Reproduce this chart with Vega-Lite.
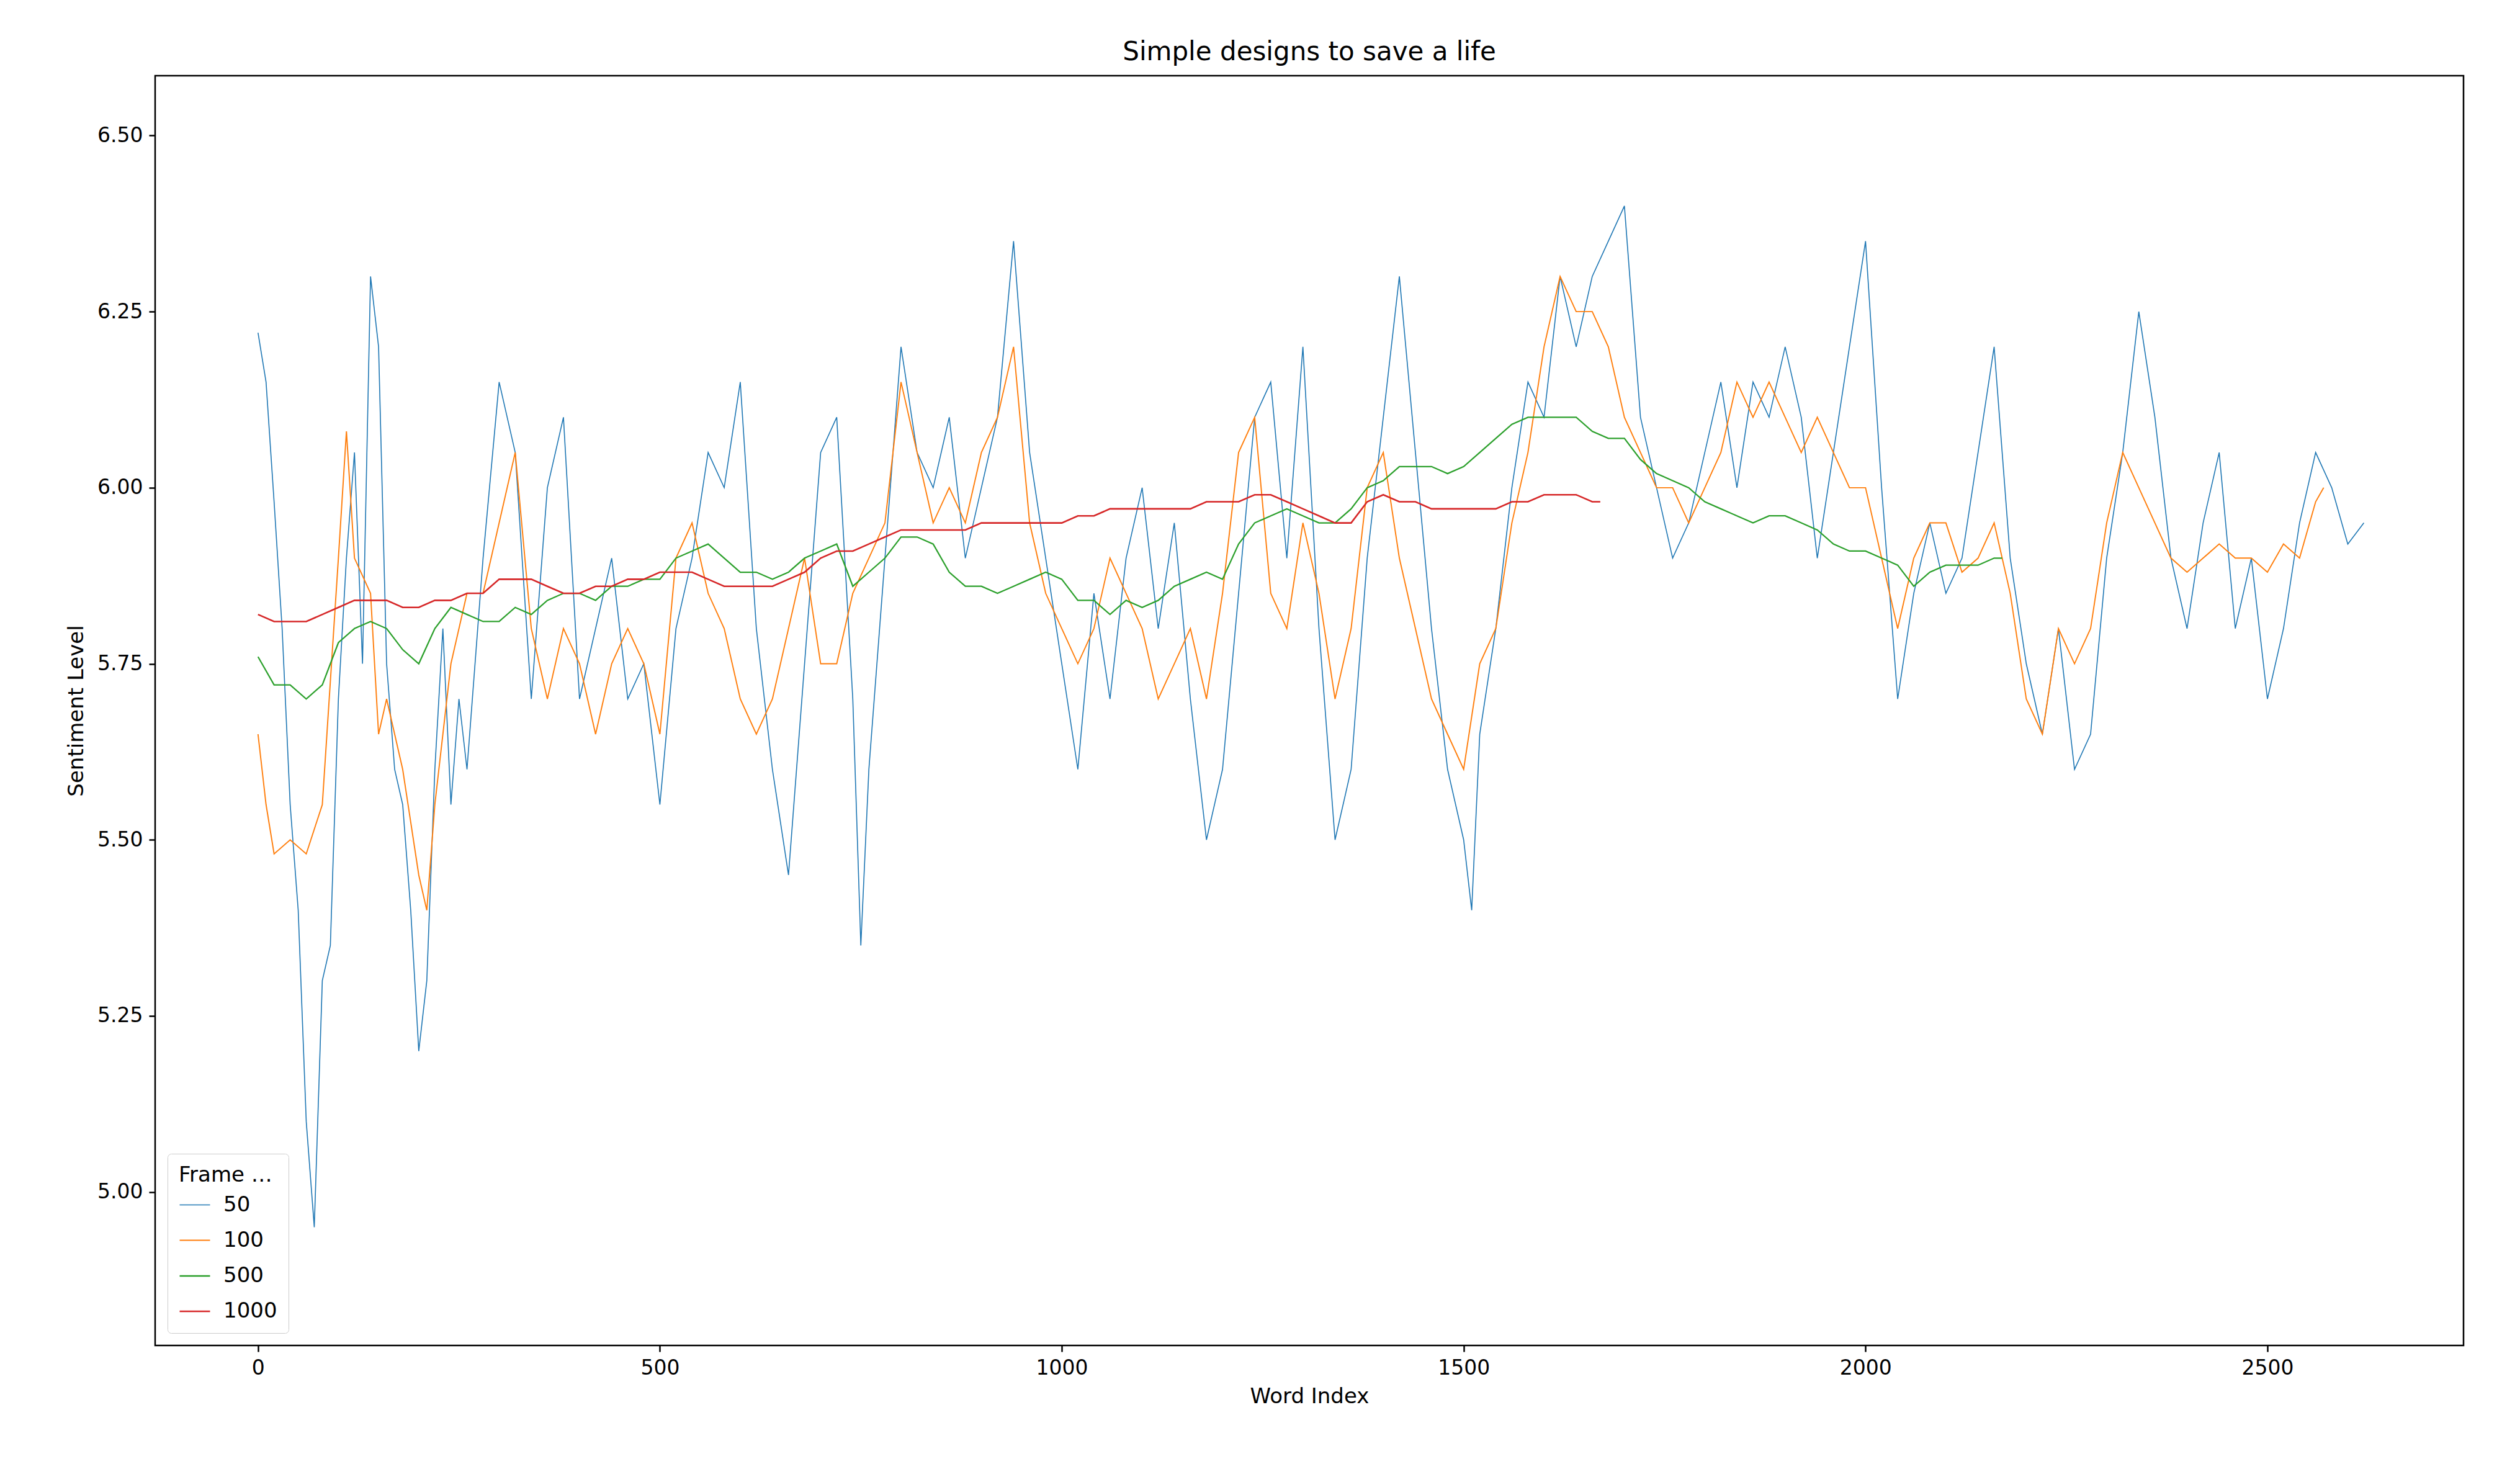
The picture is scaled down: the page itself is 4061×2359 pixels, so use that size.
{
  "$schema": "https://vega.github.io/schema/vega-lite/v6.json",
  "width": 3720,
  "height": 2046,
  "autosize": {"type": "none"},
  "padding": {"left": 250, "top": 122, "right": 91, "bottom": 191},
  "background": "white",
  "config": {
    "font": "DejaVu Sans",
    "view": {"stroke": "black", "strokeWidth": 2.5},
    "axis": {"grid": false, "domain": false, "tickColor": "black", "tickWidth": 2.5, "tickSize": 10, "labelFontSize": 33, "titleFontSize": 34, "labelColor": "black", "titleColor": "black", "titleFontWeight": "normal", "labelPadding": 10}
  },
  "title": {"text": "Simple designs to save a life", "fontSize": 42, "fontWeight": "normal", "offset": 16},
  "data": {"values": [
    {"w":0,"s":6.22,"f":"50"},{"w":10,"s":6.15,"f":"50"},{"w":20,"s":5.98,"f":"50"},{"w":30,"s":5.80,"f":"50"},{"w":40,"s":5.55,"f":"50"},{"w":50,"s":5.40,"f":"50"},{"w":60,"s":5.10,"f":"50"},{"w":70,"s":4.95,"f":"50"},{"w":80,"s":5.30,"f":"50"},{"w":90,"s":5.35,"f":"50"},{"w":100,"s":5.70,"f":"50"},{"w":110,"s":5.90,"f":"50"},{"w":120,"s":6.05,"f":"50"},{"w":130,"s":5.75,"f":"50"},{"w":140,"s":6.30,"f":"50"},{"w":150,"s":6.20,"f":"50"},{"w":160,"s":5.75,"f":"50"},{"w":170,"s":5.60,"f":"50"},{"w":180,"s":5.55,"f":"50"},{"w":190,"s":5.40,"f":"50"},{"w":200,"s":5.20,"f":"50"},{"w":210,"s":5.30,"f":"50"},{"w":220,"s":5.60,"f":"50"},{"w":230,"s":5.80,"f":"50"},{"w":240,"s":5.55,"f":"50"},{"w":250,"s":5.70,"f":"50"},{"w":260,"s":5.60,"f":"50"},{"w":280,"s":5.90,"f":"50"},{"w":300,"s":6.15,"f":"50"},{"w":320,"s":6.05,"f":"50"},{"w":340,"s":5.70,"f":"50"},{"w":360,"s":6.00,"f":"50"},{"w":380,"s":6.10,"f":"50"},{"w":400,"s":5.70,"f":"50"},{"w":420,"s":5.80,"f":"50"},{"w":440,"s":5.90,"f":"50"},{"w":460,"s":5.70,"f":"50"},{"w":480,"s":5.75,"f":"50"},{"w":500,"s":5.55,"f":"50"},{"w":520,"s":5.80,"f":"50"},{"w":540,"s":5.90,"f":"50"},{"w":560,"s":6.05,"f":"50"},{"w":580,"s":6.00,"f":"50"},{"w":600,"s":6.15,"f":"50"},{"w":620,"s":5.80,"f":"50"},{"w":640,"s":5.60,"f":"50"},{"w":660,"s":5.45,"f":"50"},{"w":680,"s":5.75,"f":"50"},{"w":700,"s":6.05,"f":"50"},{"w":720,"s":6.10,"f":"50"},{"w":740,"s":5.70,"f":"50"},{"w":750,"s":5.35,"f":"50"},{"w":760,"s":5.60,"f":"50"},{"w":780,"s":5.90,"f":"50"},{"w":800,"s":6.20,"f":"50"},{"w":820,"s":6.05,"f":"50"},{"w":840,"s":6.00,"f":"50"},{"w":860,"s":6.10,"f":"50"},{"w":880,"s":5.90,"f":"50"},{"w":900,"s":6.00,"f":"50"},{"w":920,"s":6.10,"f":"50"},{"w":940,"s":6.35,"f":"50"},{"w":960,"s":6.05,"f":"50"},{"w":980,"s":5.90,"f":"50"},{"w":1000,"s":5.75,"f":"50"},{"w":1020,"s":5.60,"f":"50"},{"w":1040,"s":5.85,"f":"50"},{"w":1060,"s":5.70,"f":"50"},{"w":1080,"s":5.90,"f":"50"},{"w":1100,"s":6.00,"f":"50"},{"w":1120,"s":5.80,"f":"50"},{"w":1140,"s":5.95,"f":"50"},{"w":1160,"s":5.70,"f":"50"},{"w":1180,"s":5.50,"f":"50"},{"w":1200,"s":5.60,"f":"50"},{"w":1220,"s":5.85,"f":"50"},{"w":1240,"s":6.10,"f":"50"},{"w":1260,"s":6.15,"f":"50"},{"w":1280,"s":5.90,"f":"50"},{"w":1300,"s":6.20,"f":"50"},{"w":1320,"s":5.80,"f":"50"},{"w":1340,"s":5.50,"f":"50"},{"w":1360,"s":5.60,"f":"50"},{"w":1380,"s":5.90,"f":"50"},{"w":1400,"s":6.10,"f":"50"},{"w":1420,"s":6.30,"f":"50"},{"w":1440,"s":6.05,"f":"50"},{"w":1460,"s":5.80,"f":"50"},{"w":1480,"s":5.60,"f":"50"},{"w":1500,"s":5.50,"f":"50"},{"w":1510,"s":5.40,"f":"50"},{"w":1520,"s":5.65,"f":"50"},{"w":1540,"s":5.80,"f":"50"},{"w":1560,"s":6.00,"f":"50"},{"w":1580,"s":6.15,"f":"50"},{"w":1600,"s":6.10,"f":"50"},{"w":1620,"s":6.30,"f":"50"},{"w":1640,"s":6.20,"f":"50"},{"w":1660,"s":6.30,"f":"50"},{"w":1680,"s":6.35,"f":"50"},{"w":1700,"s":6.40,"f":"50"},{"w":1720,"s":6.10,"f":"50"},{"w":1740,"s":6.00,"f":"50"},{"w":1760,"s":5.90,"f":"50"},{"w":1780,"s":5.95,"f":"50"},{"w":1800,"s":6.05,"f":"50"},{"w":1820,"s":6.15,"f":"50"},{"w":1840,"s":6.00,"f":"50"},{"w":1860,"s":6.15,"f":"50"},{"w":1880,"s":6.10,"f":"50"},{"w":1900,"s":6.20,"f":"50"},{"w":1920,"s":6.10,"f":"50"},{"w":1940,"s":5.90,"f":"50"},{"w":1960,"s":6.05,"f":"50"},{"w":1980,"s":6.20,"f":"50"},{"w":2000,"s":6.35,"f":"50"},{"w":2020,"s":6.00,"f":"50"},{"w":2040,"s":5.70,"f":"50"},{"w":2060,"s":5.85,"f":"50"},{"w":2080,"s":5.95,"f":"50"},{"w":2100,"s":5.85,"f":"50"},{"w":2120,"s":5.90,"f":"50"},{"w":2140,"s":6.05,"f":"50"},{"w":2160,"s":6.20,"f":"50"},{"w":2180,"s":5.90,"f":"50"},{"w":2200,"s":5.75,"f":"50"},{"w":2220,"s":5.65,"f":"50"},{"w":2240,"s":5.80,"f":"50"},{"w":2260,"s":5.60,"f":"50"},{"w":2280,"s":5.65,"f":"50"},{"w":2300,"s":5.90,"f":"50"},{"w":2320,"s":6.05,"f":"50"},{"w":2340,"s":6.25,"f":"50"},{"w":2360,"s":6.10,"f":"50"},{"w":2380,"s":5.90,"f":"50"},{"w":2400,"s":5.80,"f":"50"},{"w":2420,"s":5.95,"f":"50"},{"w":2440,"s":6.05,"f":"50"},{"w":2460,"s":5.80,"f":"50"},{"w":2480,"s":5.90,"f":"50"},{"w":2500,"s":5.70,"f":"50"},{"w":2520,"s":5.80,"f":"50"},{"w":2540,"s":5.95,"f":"50"},{"w":2560,"s":6.05,"f":"50"},{"w":2580,"s":6.00,"f":"50"},{"w":2600,"s":5.92,"f":"50"},{"w":2620,"s":5.95,"f":"50"},
    {"w":0,"s":5.65,"f":"100"},{"w":10,"s":5.55,"f":"100"},{"w":20,"s":5.48,"f":"100"},{"w":40,"s":5.50,"f":"100"},{"w":60,"s":5.48,"f":"100"},{"w":80,"s":5.55,"f":"100"},{"w":100,"s":5.90,"f":"100"},{"w":110,"s":6.08,"f":"100"},{"w":120,"s":5.90,"f":"100"},{"w":140,"s":5.85,"f":"100"},{"w":150,"s":5.65,"f":"100"},{"w":160,"s":5.70,"f":"100"},{"w":180,"s":5.60,"f":"100"},{"w":200,"s":5.45,"f":"100"},{"w":210,"s":5.40,"f":"100"},{"w":220,"s":5.55,"f":"100"},{"w":240,"s":5.75,"f":"100"},{"w":260,"s":5.85,"f":"100"},{"w":280,"s":5.85,"f":"100"},{"w":300,"s":5.95,"f":"100"},{"w":320,"s":6.05,"f":"100"},{"w":340,"s":5.80,"f":"100"},{"w":360,"s":5.70,"f":"100"},{"w":380,"s":5.80,"f":"100"},{"w":400,"s":5.75,"f":"100"},{"w":420,"s":5.65,"f":"100"},{"w":440,"s":5.75,"f":"100"},{"w":460,"s":5.80,"f":"100"},{"w":480,"s":5.75,"f":"100"},{"w":500,"s":5.65,"f":"100"},{"w":520,"s":5.90,"f":"100"},{"w":540,"s":5.95,"f":"100"},{"w":560,"s":5.85,"f":"100"},{"w":580,"s":5.80,"f":"100"},{"w":600,"s":5.70,"f":"100"},{"w":620,"s":5.65,"f":"100"},{"w":640,"s":5.70,"f":"100"},{"w":660,"s":5.80,"f":"100"},{"w":680,"s":5.90,"f":"100"},{"w":700,"s":5.75,"f":"100"},{"w":720,"s":5.75,"f":"100"},{"w":740,"s":5.85,"f":"100"},{"w":760,"s":5.90,"f":"100"},{"w":780,"s":5.95,"f":"100"},{"w":800,"s":6.15,"f":"100"},{"w":820,"s":6.05,"f":"100"},{"w":840,"s":5.95,"f":"100"},{"w":860,"s":6.00,"f":"100"},{"w":880,"s":5.95,"f":"100"},{"w":900,"s":6.05,"f":"100"},{"w":920,"s":6.10,"f":"100"},{"w":940,"s":6.20,"f":"100"},{"w":960,"s":5.95,"f":"100"},{"w":980,"s":5.85,"f":"100"},{"w":1000,"s":5.80,"f":"100"},{"w":1020,"s":5.75,"f":"100"},{"w":1040,"s":5.80,"f":"100"},{"w":1060,"s":5.90,"f":"100"},{"w":1080,"s":5.85,"f":"100"},{"w":1100,"s":5.80,"f":"100"},{"w":1120,"s":5.70,"f":"100"},{"w":1140,"s":5.75,"f":"100"},{"w":1160,"s":5.80,"f":"100"},{"w":1180,"s":5.70,"f":"100"},{"w":1200,"s":5.85,"f":"100"},{"w":1220,"s":6.05,"f":"100"},{"w":1240,"s":6.10,"f":"100"},{"w":1260,"s":5.85,"f":"100"},{"w":1280,"s":5.80,"f":"100"},{"w":1300,"s":5.95,"f":"100"},{"w":1320,"s":5.85,"f":"100"},{"w":1340,"s":5.70,"f":"100"},{"w":1360,"s":5.80,"f":"100"},{"w":1380,"s":6.00,"f":"100"},{"w":1400,"s":6.05,"f":"100"},{"w":1420,"s":5.90,"f":"100"},{"w":1440,"s":5.80,"f":"100"},{"w":1460,"s":5.70,"f":"100"},{"w":1480,"s":5.65,"f":"100"},{"w":1500,"s":5.60,"f":"100"},{"w":1520,"s":5.75,"f":"100"},{"w":1540,"s":5.80,"f":"100"},{"w":1560,"s":5.95,"f":"100"},{"w":1580,"s":6.05,"f":"100"},{"w":1600,"s":6.20,"f":"100"},{"w":1620,"s":6.30,"f":"100"},{"w":1640,"s":6.25,"f":"100"},{"w":1660,"s":6.25,"f":"100"},{"w":1680,"s":6.20,"f":"100"},{"w":1700,"s":6.10,"f":"100"},{"w":1720,"s":6.05,"f":"100"},{"w":1740,"s":6.00,"f":"100"},{"w":1760,"s":6.00,"f":"100"},{"w":1780,"s":5.95,"f":"100"},{"w":1800,"s":6.00,"f":"100"},{"w":1820,"s":6.05,"f":"100"},{"w":1840,"s":6.15,"f":"100"},{"w":1860,"s":6.10,"f":"100"},{"w":1880,"s":6.15,"f":"100"},{"w":1900,"s":6.10,"f":"100"},{"w":1920,"s":6.05,"f":"100"},{"w":1940,"s":6.10,"f":"100"},{"w":1960,"s":6.05,"f":"100"},{"w":1980,"s":6.00,"f":"100"},{"w":2000,"s":6.00,"f":"100"},{"w":2020,"s":5.90,"f":"100"},{"w":2040,"s":5.80,"f":"100"},{"w":2060,"s":5.90,"f":"100"},{"w":2080,"s":5.95,"f":"100"},{"w":2100,"s":5.95,"f":"100"},{"w":2120,"s":5.88,"f":"100"},{"w":2140,"s":5.90,"f":"100"},{"w":2160,"s":5.95,"f":"100"},{"w":2180,"s":5.85,"f":"100"},{"w":2200,"s":5.70,"f":"100"},{"w":2220,"s":5.65,"f":"100"},{"w":2240,"s":5.80,"f":"100"},{"w":2260,"s":5.75,"f":"100"},{"w":2280,"s":5.80,"f":"100"},{"w":2300,"s":5.95,"f":"100"},{"w":2320,"s":6.05,"f":"100"},{"w":2340,"s":6.00,"f":"100"},{"w":2360,"s":5.95,"f":"100"},{"w":2380,"s":5.90,"f":"100"},{"w":2400,"s":5.88,"f":"100"},{"w":2420,"s":5.90,"f":"100"},{"w":2440,"s":5.92,"f":"100"},{"w":2460,"s":5.90,"f":"100"},{"w":2480,"s":5.90,"f":"100"},{"w":2500,"s":5.88,"f":"100"},{"w":2520,"s":5.92,"f":"100"},{"w":2540,"s":5.90,"f":"100"},{"w":2560,"s":5.98,"f":"100"},{"w":2570,"s":6.00,"f":"100"},
    {"w":0,"s":5.76,"f":"500"},{"w":20,"s":5.72,"f":"500"},{"w":40,"s":5.72,"f":"500"},{"w":60,"s":5.70,"f":"500"},{"w":80,"s":5.72,"f":"500"},{"w":100,"s":5.78,"f":"500"},{"w":120,"s":5.80,"f":"500"},{"w":140,"s":5.81,"f":"500"},{"w":160,"s":5.80,"f":"500"},{"w":180,"s":5.77,"f":"500"},{"w":200,"s":5.75,"f":"500"},{"w":220,"s":5.80,"f":"500"},{"w":240,"s":5.83,"f":"500"},{"w":260,"s":5.82,"f":"500"},{"w":280,"s":5.81,"f":"500"},{"w":300,"s":5.81,"f":"500"},{"w":320,"s":5.83,"f":"500"},{"w":340,"s":5.82,"f":"500"},{"w":360,"s":5.84,"f":"500"},{"w":380,"s":5.85,"f":"500"},{"w":400,"s":5.85,"f":"500"},{"w":420,"s":5.84,"f":"500"},{"w":440,"s":5.86,"f":"500"},{"w":460,"s":5.86,"f":"500"},{"w":480,"s":5.87,"f":"500"},{"w":500,"s":5.87,"f":"500"},{"w":520,"s":5.90,"f":"500"},{"w":540,"s":5.91,"f":"500"},{"w":560,"s":5.92,"f":"500"},{"w":580,"s":5.90,"f":"500"},{"w":600,"s":5.88,"f":"500"},{"w":620,"s":5.88,"f":"500"},{"w":640,"s":5.87,"f":"500"},{"w":660,"s":5.88,"f":"500"},{"w":680,"s":5.90,"f":"500"},{"w":700,"s":5.91,"f":"500"},{"w":720,"s":5.92,"f":"500"},{"w":740,"s":5.86,"f":"500"},{"w":760,"s":5.88,"f":"500"},{"w":780,"s":5.90,"f":"500"},{"w":800,"s":5.93,"f":"500"},{"w":820,"s":5.93,"f":"500"},{"w":840,"s":5.92,"f":"500"},{"w":860,"s":5.88,"f":"500"},{"w":880,"s":5.86,"f":"500"},{"w":900,"s":5.86,"f":"500"},{"w":920,"s":5.85,"f":"500"},{"w":940,"s":5.86,"f":"500"},{"w":960,"s":5.87,"f":"500"},{"w":980,"s":5.88,"f":"500"},{"w":1000,"s":5.87,"f":"500"},{"w":1020,"s":5.84,"f":"500"},{"w":1040,"s":5.84,"f":"500"},{"w":1060,"s":5.82,"f":"500"},{"w":1080,"s":5.84,"f":"500"},{"w":1100,"s":5.83,"f":"500"},{"w":1120,"s":5.84,"f":"500"},{"w":1140,"s":5.86,"f":"500"},{"w":1160,"s":5.87,"f":"500"},{"w":1180,"s":5.88,"f":"500"},{"w":1200,"s":5.87,"f":"500"},{"w":1220,"s":5.92,"f":"500"},{"w":1240,"s":5.95,"f":"500"},{"w":1260,"s":5.96,"f":"500"},{"w":1280,"s":5.97,"f":"500"},{"w":1300,"s":5.96,"f":"500"},{"w":1320,"s":5.95,"f":"500"},{"w":1340,"s":5.95,"f":"500"},{"w":1360,"s":5.97,"f":"500"},{"w":1380,"s":6.00,"f":"500"},{"w":1400,"s":6.01,"f":"500"},{"w":1420,"s":6.03,"f":"500"},{"w":1440,"s":6.03,"f":"500"},{"w":1460,"s":6.03,"f":"500"},{"w":1480,"s":6.02,"f":"500"},{"w":1500,"s":6.03,"f":"500"},{"w":1520,"s":6.05,"f":"500"},{"w":1540,"s":6.07,"f":"500"},{"w":1560,"s":6.09,"f":"500"},{"w":1580,"s":6.10,"f":"500"},{"w":1600,"s":6.10,"f":"500"},{"w":1620,"s":6.10,"f":"500"},{"w":1640,"s":6.10,"f":"500"},{"w":1660,"s":6.08,"f":"500"},{"w":1680,"s":6.07,"f":"500"},{"w":1700,"s":6.07,"f":"500"},{"w":1720,"s":6.04,"f":"500"},{"w":1740,"s":6.02,"f":"500"},{"w":1760,"s":6.01,"f":"500"},{"w":1780,"s":6.00,"f":"500"},{"w":1800,"s":5.98,"f":"500"},{"w":1820,"s":5.97,"f":"500"},{"w":1840,"s":5.96,"f":"500"},{"w":1860,"s":5.95,"f":"500"},{"w":1880,"s":5.96,"f":"500"},{"w":1900,"s":5.96,"f":"500"},{"w":1920,"s":5.95,"f":"500"},{"w":1940,"s":5.94,"f":"500"},{"w":1960,"s":5.92,"f":"500"},{"w":1980,"s":5.91,"f":"500"},{"w":2000,"s":5.91,"f":"500"},{"w":2020,"s":5.90,"f":"500"},{"w":2040,"s":5.89,"f":"500"},{"w":2060,"s":5.86,"f":"500"},{"w":2080,"s":5.88,"f":"500"},{"w":2100,"s":5.89,"f":"500"},{"w":2120,"s":5.89,"f":"500"},{"w":2140,"s":5.89,"f":"500"},{"w":2160,"s":5.90,"f":"500"},{"w":2170,"s":5.90,"f":"500"},
    {"w":0,"s":5.82,"f":"1000"},{"w":20,"s":5.81,"f":"1000"},{"w":40,"s":5.81,"f":"1000"},{"w":60,"s":5.81,"f":"1000"},{"w":80,"s":5.82,"f":"1000"},{"w":100,"s":5.83,"f":"1000"},{"w":120,"s":5.84,"f":"1000"},{"w":140,"s":5.84,"f":"1000"},{"w":160,"s":5.84,"f":"1000"},{"w":180,"s":5.83,"f":"1000"},{"w":200,"s":5.83,"f":"1000"},{"w":220,"s":5.84,"f":"1000"},{"w":240,"s":5.84,"f":"1000"},{"w":260,"s":5.85,"f":"1000"},{"w":280,"s":5.85,"f":"1000"},{"w":300,"s":5.87,"f":"1000"},{"w":320,"s":5.87,"f":"1000"},{"w":340,"s":5.87,"f":"1000"},{"w":360,"s":5.86,"f":"1000"},{"w":380,"s":5.85,"f":"1000"},{"w":400,"s":5.85,"f":"1000"},{"w":420,"s":5.86,"f":"1000"},{"w":440,"s":5.86,"f":"1000"},{"w":460,"s":5.87,"f":"1000"},{"w":480,"s":5.87,"f":"1000"},{"w":500,"s":5.88,"f":"1000"},{"w":520,"s":5.88,"f":"1000"},{"w":540,"s":5.88,"f":"1000"},{"w":560,"s":5.87,"f":"1000"},{"w":580,"s":5.86,"f":"1000"},{"w":600,"s":5.86,"f":"1000"},{"w":620,"s":5.86,"f":"1000"},{"w":640,"s":5.86,"f":"1000"},{"w":660,"s":5.87,"f":"1000"},{"w":680,"s":5.88,"f":"1000"},{"w":700,"s":5.90,"f":"1000"},{"w":720,"s":5.91,"f":"1000"},{"w":740,"s":5.91,"f":"1000"},{"w":760,"s":5.92,"f":"1000"},{"w":780,"s":5.93,"f":"1000"},{"w":800,"s":5.94,"f":"1000"},{"w":820,"s":5.94,"f":"1000"},{"w":840,"s":5.94,"f":"1000"},{"w":860,"s":5.94,"f":"1000"},{"w":880,"s":5.94,"f":"1000"},{"w":900,"s":5.95,"f":"1000"},{"w":920,"s":5.95,"f":"1000"},{"w":940,"s":5.95,"f":"1000"},{"w":960,"s":5.95,"f":"1000"},{"w":980,"s":5.95,"f":"1000"},{"w":1000,"s":5.95,"f":"1000"},{"w":1020,"s":5.96,"f":"1000"},{"w":1040,"s":5.96,"f":"1000"},{"w":1060,"s":5.97,"f":"1000"},{"w":1080,"s":5.97,"f":"1000"},{"w":1100,"s":5.97,"f":"1000"},{"w":1120,"s":5.97,"f":"1000"},{"w":1140,"s":5.97,"f":"1000"},{"w":1160,"s":5.97,"f":"1000"},{"w":1180,"s":5.98,"f":"1000"},{"w":1200,"s":5.98,"f":"1000"},{"w":1220,"s":5.98,"f":"1000"},{"w":1240,"s":5.99,"f":"1000"},{"w":1260,"s":5.99,"f":"1000"},{"w":1280,"s":5.98,"f":"1000"},{"w":1300,"s":5.97,"f":"1000"},{"w":1320,"s":5.96,"f":"1000"},{"w":1340,"s":5.95,"f":"1000"},{"w":1360,"s":5.95,"f":"1000"},{"w":1380,"s":5.98,"f":"1000"},{"w":1400,"s":5.99,"f":"1000"},{"w":1420,"s":5.98,"f":"1000"},{"w":1440,"s":5.98,"f":"1000"},{"w":1460,"s":5.97,"f":"1000"},{"w":1480,"s":5.97,"f":"1000"},{"w":1500,"s":5.97,"f":"1000"},{"w":1520,"s":5.97,"f":"1000"},{"w":1540,"s":5.97,"f":"1000"},{"w":1560,"s":5.98,"f":"1000"},{"w":1580,"s":5.98,"f":"1000"},{"w":1600,"s":5.99,"f":"1000"},{"w":1620,"s":5.99,"f":"1000"},{"w":1640,"s":5.99,"f":"1000"},{"w":1660,"s":5.98,"f":"1000"},{"w":1670,"s":5.98,"f":"1000"}
  ]},
  "mark": {"type": "line", "clip": true},
  "encoding": {
    "x": {"field": "w", "type": "quantitative", "title": "Word Index",
      "scale": {"domain": [-128, 2744], "nice": false, "zero": false},
      "axis": {"values": [0, 500, 1000, 1500, 2000, 2500], "format": "d", "titlePadding": 12}},
    "y": {"field": "s", "type": "quantitative", "title": "Sentiment Level",
      "scale": {"domain": [4.782, 6.585], "nice": false, "zero": false},
      "axis": {"values": [5.0, 5.25, 5.5, 5.75, 6.0, 6.25, 6.5], "format": ".2f", "titlePadding": 16}},
    "color": {"field": "f", "type": "nominal", "sort": ["50", "100", "500", "1000"],
      "scale": {"domain": ["50", "100", "500", "1000"], "range": ["#1f77b4", "#ff7f0e", "#2ca02c", "#d62728"]},
      "legend": {"title": "Frame Width", "orient": "bottom-left", "offset": 20, "symbolType": "stroke", "symbolSize": 2400, "symbolStrokeWidth": 3, "labelFontSize": 34, "titleFontSize": 34, "titleFontWeight": "normal", "strokeColor": "#cccccc", "fillColor": "white", "padding": 18, "cornerRadius": 6, "rowPadding": 14, "labelOffset": 20}},
    "strokeWidth": {"field": "f", "type": "nominal", "sort": ["50", "100", "500", "1000"],
      "scale": {"domain": ["50", "100", "500", "1000"], "range": [1.6, 2.6, 3.4, 4.6]}, "legend": null},
    "order": {"field": "w", "type": "quantitative"}
  }
}
